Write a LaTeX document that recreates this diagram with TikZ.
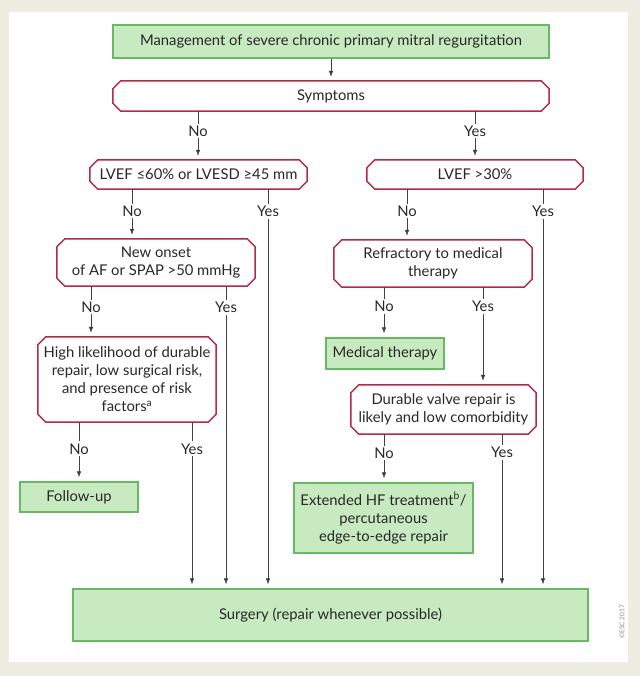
\documentclass[tikz,border=0pt]{standalone}
\usepackage{fontspec}
\setmainfont{Lato}
\usetikzlibrary{arrows.meta}
\definecolor{bgc}{RGB}{238,237,226}
\definecolor{gfill}{RGB}{200,234,192}
\definecolor{gdraw}{RGB}{105,185,100}
\definecolor{rdraw}{RGB}{178,42,72}
\definecolor{txt}{RGB}{40,40,40}
\begin{document}
\begin{tikzpicture}[x=1pt,y=-1pt,
  every node/.style={font=\fontsize{14.8}{18}\selectfont, text=txt},
  gbox/.style={draw=gdraw, fill=gfill, line width=1.4pt, inner sep=0pt, align=center},
  rbox/.style={rectangle, fill=white, inner sep=0pt, align=center},
  rline/.style={draw=rdraw, line width=1.5pt, line join=round},
  conn/.style={draw=black!75, line width=0.6pt},
  arr/.style={conn, shorten >=4pt, -{Latex[length=6pt,width=4.5pt]}},
  lbl/.style={fill=white, inner sep=2pt}]
\useasboundingbox (0,0) rectangle (640,676);
\fill[bgc] (0,0) rectangle (640,676);
\fill[white] (9,12) rectangle (628,662);

% columns
\foreach \n/\x in {c198/198,c475/475,c132/132,c268/268,c407/407,c543/543,c91/91,c226/226,c384/384,c483/483,c79/79,c192/192,c502/502}
  \coordinate (\n) at (\x,0);

\node[gbox, minimum width=436pt, minimum height=33pt] (title) at (331,41.5) {Management of severe chronic primary mitral regurgitation};
\node[rbox, minimum width=436pt, minimum height=30pt] (sym) at (331,96) {Symptoms};
\node[rbox, minimum width=217pt, minimum height=29pt] (lv60) at (198.5,174.5) {LVEF ≤60\% or LVESD ≥45 mm};
\node[rbox, minimum width=216pt, minimum height=29pt] (lv30) at (475,174.5) {LVEF >30\%};
\node[rbox, minimum width=198pt, minimum height=47pt] (onset) at (156,262.5) {New onset\\of AF or SPAP >50 mmHg};
\node[rbox, minimum width=198pt, minimum height=47pt] (refr) at (433,263.5) {Refractory to medical\\therapy};
\node[rbox, minimum width=178pt, minimum height=85pt] (high) at (127,379.5) {High likelihood of durable\\repair, low surgical risk,\\and presence of risk\\factors\textsuperscript{a}};
\node[gbox, minimum width=118pt, minimum height=31pt] (medth) at (385,353.5) {Medical therapy};
\node[rbox, minimum width=185pt, minimum height=49pt] (dur) at (443.5,409.5) {Durable valve repair is\\likely and low comorbidity};
\node[gbox, minimum width=118pt, minimum height=30pt] (follow) at (79,497) {Follow-up};
\node[gbox, minimum width=179pt, minimum height=70pt] (ext) at (383.5,518) {Extended HF treatment\textsuperscript{b}/\\percutaneous\\edge-to-edge repair};
\node[gbox, minimum width=515pt, minimum height=52pt] (surg) at (330.5,615) {Surgery (repair whenever possible)};

\foreach \n in {sym,lv60,lv30,onset,refr,high,dur}
  \draw[rline] ([xshift=8pt]\n.north west) -- ([xshift=-8pt]\n.north east)
    -- ([yshift=-8pt]\n.north east) -- ([yshift=8pt]\n.south east)
    -- ([xshift=-8pt]\n.south east) -- ([xshift=8pt]\n.south west)
    -- ([yshift=8pt]\n.south west) -- ([yshift=-8pt]\n.north west) -- cycle;

\draw[arr] (title) -- (sym);
\draw[arr] (sym.south -| c198) -- (lv60.north -| c198) node[lbl, pos=0.41] {No};
\draw[arr] (sym.south -| c475) -- (lv30.north -| c475) node[lbl, pos=0.41] {Yes};
\draw[arr] (lv60.south -| c132) -- (onset.north -| c132) node[lbl, pos=0.44] {No};
\draw[arr] (lv60.south -| c268) -- (surg.north -| c268) node[lbl, pos=0.055] {Yes};
\draw[arr] (lv30.south -| c407) -- (refr.north -| c407) node[lbl, pos=0.43] {No};
\draw[arr] (lv30.south -| c543) -- (surg.north -| c543) node[lbl, pos=0.055] {Yes};
\draw[arr] (onset.south -| c91) -- (high.north -| c91) node[lbl, pos=0.41] {No};
\draw[arr] (onset.south -| c226) -- (surg.north -| c226) node[lbl, pos=0.07] {Yes};
\draw[arr] (refr.south -| c384) -- (medth.north -| c384) node[lbl, pos=0.39] {No};
\draw[arr] (refr.south -| c483) -- (dur.north -| c483) node[lbl, pos=0.2] {Yes};
\draw[arr] (high.south -| c79) -- (follow.north -| c79) node[lbl, pos=0.45] {No};
\draw[arr] (high.south -| c192) -- (surg.north -| c192) node[lbl, pos=0.16] {Yes};
\draw[arr] (dur.south -| c384) -- (ext.north -| c384) node[lbl, pos=0.39] {No};
\draw[arr] (dur.south -| c502) -- (surg.north -| c502) node[lbl, pos=0.12] {Yes};

\node[rotate=90, font=\fontsize{6.5}{7}\selectfont, text=black!45] (esc) at (622,622) {©ESC 2017};
\end{tikzpicture}
\end{document}
